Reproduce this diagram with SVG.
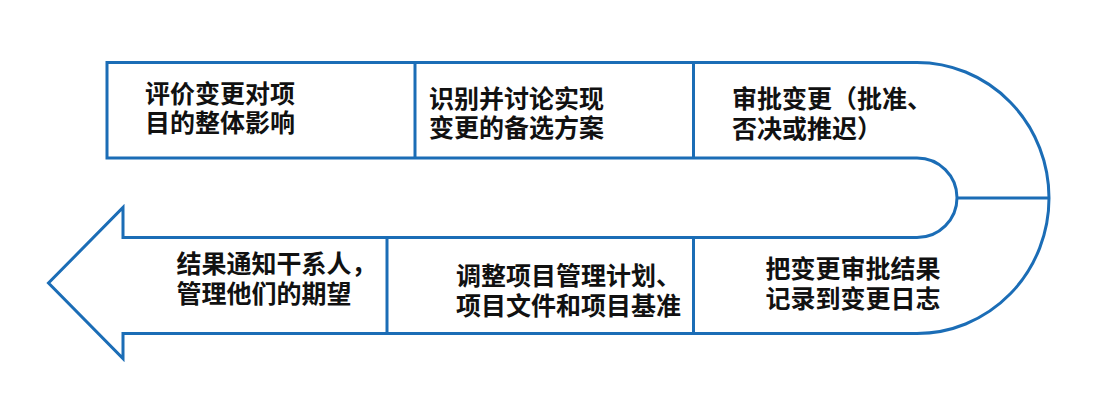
<svg xmlns="http://www.w3.org/2000/svg" width="1108" height="403" viewBox="0 0 1108 403">
  <style>
    .frame { fill: #ffffff; stroke: #1b6db6; stroke-width: 3; stroke-linejoin: miter; stroke-miterlimit: 10; }
    .div { fill: none; stroke: #1b6db6; stroke-width: 3; }
    .lbl { font-family: "Liberation Sans", "Noto Sans CJK SC", sans-serif; font-size: 25px; font-weight: bold; fill: #111111; }
  </style>
  <rect width="1108" height="403" fill="#ffffff"/>
  <g id="connectors">
    <path id="flow-arrow" class="frame" d="M 107 62.5 L 917 62.5 A 132 135.5 0 0 1 917 333.5 L 123 333.5 L 123 358.5 L 48.5 283 L 123 207.5 L 123 237.5 L 917 237.5 A 40 39.75 0 0 0 917 158 L 107 158 Z"/>
    <line class="div" x1="415" y1="62.5" x2="415" y2="158"/>
    <line class="div" x1="693.5" y1="62.5" x2="693.5" y2="158"/>
    <line class="div" x1="387" y1="237.5" x2="387" y2="333.5"/>
    <line class="div" x1="693.5" y1="237.5" x2="693.5" y2="333.5"/>
    <line class="div" x1="957" y1="198" x2="1049" y2="198"/>
  </g>
  <g id="node-assess">
    <text class="lbl"><tspan x="145" y="103">评价变更对项</tspan><tspan x="145" y="132">目的整体影响</tspan></text>
  </g>
  <g id="node-identify">
    <text class="lbl"><tspan x="429" y="108">识别并讨论实现</tspan><tspan x="429" y="137">变更的备选方案</tspan></text>
  </g>
  <g id="node-approve">
    <text class="lbl"><tspan x="732" y="108">审批变更（批准、</tspan><tspan x="732" y="138">否决或推迟）</tspan></text>
  </g>
  <g id="node-record">
    <text class="lbl"><tspan x="765.5" y="278">把变更审批结果</tspan><tspan x="765.5" y="308">记录到变更日志</tspan></text>
  </g>
  <g id="node-adjust">
    <text class="lbl"><tspan x="456" y="285">调整项目管理计划、</tspan><tspan x="456" y="315">项目文件和项目基准</tspan></text>
  </g>
  <g id="node-notify">
    <text class="lbl"><tspan x="176.5" y="273">结果通知干系人，</tspan><tspan x="176.5" y="303">管理他们的期望</tspan></text>
  </g>
</svg>
